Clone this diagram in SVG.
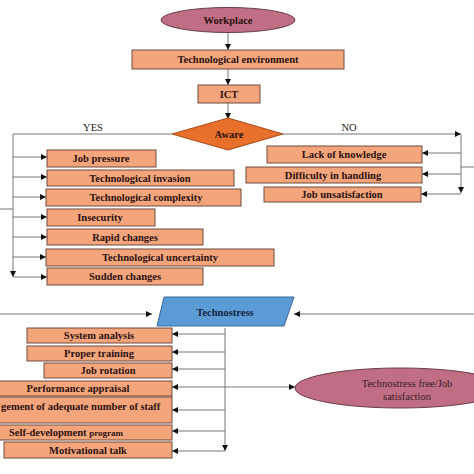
<svg xmlns="http://www.w3.org/2000/svg" width="474" height="474" viewBox="0 0 474 474">
<defs>
<marker id="ah" viewBox="0 0 10 10" refX="10" refY="5" markerWidth="6" markerHeight="6" markerUnits="userSpaceOnUse" orient="auto">
<path d="M0,0 L10,5 L0,10 Z" fill="#111"/>
</marker>
</defs>
<style>
.box{fill:#F4A57C;stroke:#6e4a3c;stroke-width:1}
.t{font-family:"Liberation Serif","Times New Roman",serif;font-weight:bold;font-size:10.5px;fill:#2b1212;text-anchor:middle}
.ln{fill:none;stroke:#777;stroke-width:1}
.lbl{font-family:"Liberation Serif","Times New Roman",serif;font-size:10.5px;fill:#222;text-anchor:middle}
</style>
<rect width="474" height="474" fill="#fff"/>

<g id="connectors">
<path class="ln" d="M228,32 V50" marker-end="url(#ah)"/>
<path class="ln" d="M228,69 V85" marker-end="url(#ah)"/>
<path class="ln" d="M228,103 V119" marker-end="url(#ah)"/>
<path class="ln" d="M172,134 H13 V277" marker-end="url(#ah)"/>
<path class="ln" d="M0,209 H13"/>
<path class="ln" d="M13,157 H47" marker-end="url(#ah)"/>
<path class="ln" d="M13,177 H47" marker-end="url(#ah)"/>
<path class="ln" d="M13,197 H46" marker-end="url(#ah)"/>
<path class="ln" d="M13,217 H47" marker-end="url(#ah)"/>
<path class="ln" d="M13,237 H47" marker-end="url(#ah)"/>
<path class="ln" d="M13,257 H46" marker-end="url(#ah)"/>
<path class="ln" d="M13,277 H47" marker-end="url(#ah)"/>
<path class="ln" d="M283,134 H461" marker-end="url(#ah)"/>
<path class="ln" d="M461,134 V193" marker-end="url(#ah)"/>
<path class="ln" d="M474,167 H461"/>
<path class="ln" d="M461,153 H422" marker-end="url(#ah)"/>
<path class="ln" d="M461,174 H422" marker-end="url(#ah)"/>
<path class="ln" d="M461,194 H421" marker-end="url(#ah)"/>
<path class="ln" d="M0,314 H152" marker-end="url(#ah)"/>
<path class="ln" d="M474,314 H294" marker-end="url(#ah)"/>
<path class="ln" d="M225,328 V451" marker-end="url(#ah)"/>
<path class="ln" d="M225,334 H172" marker-end="url(#ah)"/>
<path class="ln" d="M225,352 H172" marker-end="url(#ah)"/>
<path class="ln" d="M225,369 H172" marker-end="url(#ah)"/>
<path class="ln" d="M225,387 H172" marker-end="url(#ah)"/>
<path class="ln" d="M225,410 H172" marker-end="url(#ah)"/>
<path class="ln" d="M225,431 H172" marker-end="url(#ah)"/>
<path class="ln" d="M225,451 H172" marker-end="url(#ah)"/>
<path class="ln" d="M225,387 H295" marker-end="url(#ah)"/>
<text class="lbl" x="93" y="131">YES</text>
<text class="lbl" x="349" y="131">NO</text>
</g>

<g id="workplace">
<ellipse cx="228" cy="20" rx="67" ry="12.5" fill="#C06E84" stroke="#6a3a48"/>
<text class="t" x="228" y="24">Workplace</text>
</g>
<g id="tech-env">
<rect class="box" x="132" y="50" width="212" height="19"/>
<text class="t" x="238" y="63">Technological environment</text>
</g>
<g id="ict">
<rect class="box" x="198" y="85" width="62" height="18"/>
<text class="t" x="229" y="98">ICT</text>
</g>
<g id="aware">
<path d="M172,134 L228,118 L283,134 L228,150 Z" fill="#E8702A" stroke="#a84a18"/>
<text class="t" x="229" y="138">Aware</text>
</g>

<g id="job-pressure"><rect class="box" x="47" y="150" width="109" height="17"/><text class="t" x="101" y="162">Job pressure</text></g>
<g id="tech-invasion"><rect class="box" x="47" y="170" width="187" height="16"/><text class="t" x="140" y="182">Technological invasion</text></g>
<g id="tech-complexity"><rect class="box" x="46" y="189" width="195" height="17"/><text class="t" x="146" y="201">Technological complexity</text></g>
<g id="insecurity"><rect class="box" x="47" y="209" width="108" height="17"/><text class="t" x="100" y="221">Insecurity</text></g>
<g id="rapid-changes"><rect class="box" x="47" y="229" width="156" height="16"/><text class="t" x="125" y="241">Rapid changes</text></g>
<g id="tech-uncertainty"><rect class="box" x="46" y="249" width="228" height="17"/><text class="t" x="160" y="261">Technological uncertainty</text></g>
<g id="sudden-changes"><rect class="box" x="47" y="268" width="156" height="17"/><text class="t" x="125" y="280">Sudden changes</text></g>

<g id="lack-knowledge"><rect class="box" x="267" y="146" width="155" height="17"/><text class="t" x="344" y="158">Lack of knowledge</text></g>
<g id="difficulty"><rect class="box" x="246" y="167" width="176" height="16"/><text class="t" x="333" y="179">Difficulty in handling</text></g>
<g id="job-unsat"><rect class="box" x="264" y="187" width="157" height="15"/><text class="t" x="342" y="198">Job unsatisfaction</text></g>

<g id="technostress">
<path d="M164,297 L294,297 L284,326 L157,326 Z" fill="#5B9BD5" stroke="#3a6a9a"/>
<text class="t" x="225" y="316" style="fill:#14243c">Technostress</text>
</g>

<g id="system-analysis"><rect class="box" x="27" y="328" width="145" height="15"/><text class="t" x="99" y="339">System analysis</text></g>
<g id="proper-training"><rect class="box" x="27" y="346" width="145" height="15"/><text class="t" x="99" y="357">Proper training</text></g>
<g id="job-rotation"><rect class="box" x="44" y="363" width="128" height="15"/><text class="t" x="108" y="374">Job rotation</text></g>
<g id="performance"><rect class="box" x="-2" y="381" width="174" height="15"/><text class="t" x="78" y="392">Performance appraisal</text></g>
<g id="staff"><rect class="box" x="-2" y="397" width="174" height="26"/><text class="t" x="1" y="410" style="text-anchor:start">gement of adequate number of staff</text></g>
<g id="self-dev"><rect class="box" x="-2" y="425" width="174" height="15"/><text class="t" x="9" y="436" style="text-anchor:start">Self-development <tspan style="font-size:9px">program</tspan></text></g>
<g id="motivational"><rect class="box" x="4" y="442" width="168" height="16"/><text class="t" x="88" y="454">Motivational talk</text></g>

<g id="technostress-free">
<ellipse cx="400" cy="388" rx="105" ry="20" fill="#C06E84" stroke="#6a3a48"/>
<text class="lbl" x="407" y="387" style="fill:#3a1a24">Technostress free/Job</text>
<text class="lbl" x="407" y="400" style="fill:#3a1a24">satisfaction</text>
</g>
</svg>
